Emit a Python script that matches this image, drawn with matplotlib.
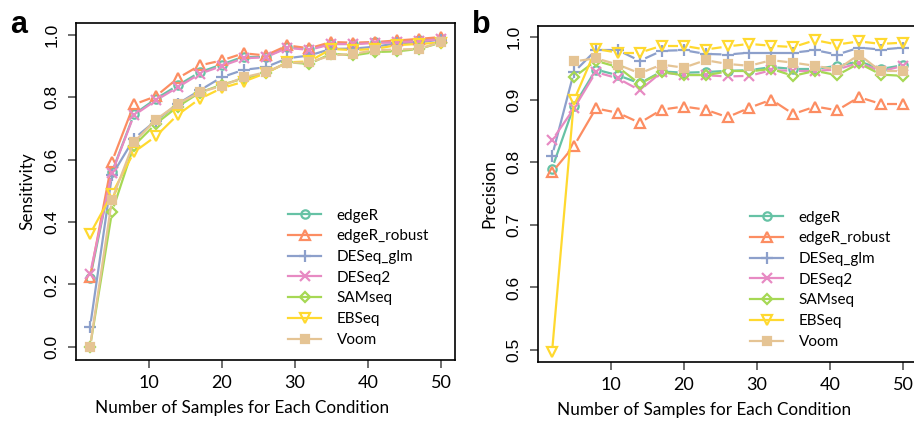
import numpy as np
import matplotlib
matplotlib.use('Agg')
import matplotlib.pyplot as plt
import matplotlib.lines as mlines
from matplotlib.collections import LineCollection

# data
n_samples = [2, 5, 8, 11, 14, 17, 20, 23, 26, 29, 32, 35, 38, 41, 44, 47, 50]
methods = ['edgeR', 'edgeR_robust', 'DESeq_glm', 'DESeq2', 'SAMseq', 'EBSeq', 'Voom']

sens_edgeR = [0.220, 0.560, 0.745, 0.795, 0.838, 0.880, 0.905, 0.930, 0.930, 0.960, 0.955, 0.972, 0.972, 0.976, 0.978, 0.982, 0.988]
sens_edgeR_robust = [0.223, 0.594, 0.777, 0.803, 0.861, 0.902, 0.918, 0.941, 0.934, 0.966, 0.957, 0.977, 0.975, 0.977, 0.982, 0.987, 0.993]
sens_DESeq_glm = [0.063, 0.550, 0.667, 0.725, 0.779, 0.822, 0.864, 0.888, 0.896, 0.925, 0.934, 0.955, 0.956, 0.962, 0.973, 0.976, 0.985]
sens_DESeq2 = [0.234, 0.558, 0.742, 0.790, 0.832, 0.875, 0.900, 0.925, 0.928, 0.958, 0.952, 0.970, 0.970, 0.974, 0.976, 0.980, 0.986]
sens_SAMseq = [0.000, 0.432, 0.645, 0.715, 0.770, 0.815, 0.840, 0.860, 0.877, 0.912, 0.907, 0.940, 0.934, 0.945, 0.947, 0.955, 0.975]
sens_EBSeq = [0.362, 0.490, 0.624, 0.675, 0.744, 0.795, 0.829, 0.850, 0.877, 0.912, 0.915, 0.955, 0.951, 0.955, 0.967, 0.971, 0.975]
sens_Voom = [0.000, 0.472, 0.656, 0.728, 0.779, 0.816, 0.836, 0.864, 0.880, 0.910, 0.912, 0.934, 0.939, 0.951, 0.953, 0.955, 0.977]

prec_edgeR = [0.790, 0.890, 0.948, 0.939, 0.926, 0.945, 0.943, 0.944, 0.946, 0.947, 0.952, 0.949, 0.949, 0.954, 0.961, 0.949, 0.955]
prec_edgeR_robust = [0.784, 0.826, 0.886, 0.879, 0.863, 0.884, 0.889, 0.884, 0.872, 0.887, 0.900, 0.877, 0.889, 0.883, 0.904, 0.893, 0.893]
prec_DESeq_glm = [0.810, 0.944, 0.979, 0.979, 0.962, 0.978, 0.979, 0.973, 0.972, 0.975, 0.975, 0.975, 0.979, 0.972, 0.983, 0.980, 0.983]
prec_DESeq2 = [0.835, 0.886, 0.944, 0.934, 0.915, 0.944, 0.939, 0.939, 0.937, 0.938, 0.947, 0.946, 0.946, 0.948, 0.959, 0.945, 0.954]
prec_SAMseq = [np.nan, 0.936, 0.962, 0.952, 0.925, 0.944, 0.939, 0.939, 0.945, 0.945, 0.949, 0.938, 0.946, 0.939, 0.958, 0.940, 0.938]
prec_EBSeq = [0.497, 0.899, 0.981, 0.975, 0.975, 0.986, 0.986, 0.980, 0.985, 0.989, 0.986, 0.984, 0.995, 0.988, 0.993, 0.989, 0.991]
prec_Voom = [np.nan, 0.961, 0.966, 0.956, 0.942, 0.956, 0.951, 0.963, 0.957, 0.954, 0.963, 0.959, 0.954, 0.948, 0.972, 0.945, 0.945]

sensitivity = [sens_edgeR, sens_edgeR_robust, sens_DESeq_glm, sens_DESeq2,
               sens_SAMseq, sens_EBSeq, sens_Voom]
precision = [prec_edgeR, prec_edgeR_robust, prec_DESeq_glm, prec_DESeq2,
             prec_SAMseq, prec_EBSeq, prec_Voom]

# Set2 palette, R pch 1..6 + filled square
colors = ['#66C2A5', '#FC8D62', '#8DA0CB', '#E78AC3', '#A6D854', '#FFD92F', '#E5C494']
markers = ['o', '^', '+', 'x', 'D', 'v', 's']
msizes = [6.0, 7.0, 8.5, 6.5, 5.5, 7.0, 6.0]
LW = 1.6

label_font = ['Lato', 'DejaVu Sans']
tick_font = ['Liberation Sans', 'DejaVu Sans']

W, H = 914, 421
fig = plt.figure(figsize=(W / 100, H / 100), dpi=100)
ax1 = fig.add_axes([76 / W, 1 - 360 / H, (455 - 76) / W, (360 - 23) / H])
ax2 = fig.add_axes([538 / W, 1 - 362 / H, (917 - 538) / W, (362 - 26) / H])

ax1.set_xlim(0.08, 51.92)
ax1.set_ylim(-0.042, 1.038)
ax2.set_xlim(0.08, 51.92)
ax2.set_ylim(0.481, 1.0176)


def draw_type_b(ax, x, y, color, marker, ms, gap=6.0):
    # R type="b": points joined by lines that stop short of each point
    pts = ax.transData.transform(np.column_stack([x, y]))
    inv = ax.transData.inverted()
    segs = []
    for i in range(len(pts) - 1):
        p0, p1 = pts[i], pts[i + 1]
        if np.any(np.isnan(p0)) or np.any(np.isnan(p1)):
            continue
        d = p1 - p0
        L = np.hypot(d[0], d[1])
        if L <= 2 * gap:
            continue
        u = d / L
        segs.append(inv.transform(np.array([p0 + u * gap, p1 - u * gap])))
    ax.add_collection(LineCollection(segs, colors=color, linewidths=LW,
                                     capstyle='butt'))
    filled = marker == 's'
    ax.plot(x, y, linestyle='none', marker=marker, markersize=ms,
            markeredgecolor=color, markerfacecolor=color if filled else 'none',
            markeredgewidth=LW)


for ax, data in [(ax1, sensitivity), (ax2, precision)]:
    for k in range(len(methods)):
        draw_type_b(ax, n_samples, data[k], colors[k], markers[k], msizes[k])

ax1.set_yticks([0.0, 0.2, 0.4, 0.6, 0.8, 1.0])
ax2.set_yticks([0.5, 0.6, 0.7, 0.8, 0.9, 1.0])
for ax in (ax1, ax2):
    ax.set_xticks([10, 20, 30, 40, 50])
    ax.set_xticklabels(['10', '20', '30', '40', '50'], family=label_font, fontsize=13)
    ax.set_yticklabels(['%.1f' % t for t in ax.get_yticks()], rotation=90,
                       va='center', family=tick_font, fontsize=12.5)
    ax.tick_params(axis='both', direction='out', length=6, width=1.2,
                   color='#555555')
    ax.tick_params(axis='x', pad=5)
    ax.tick_params(axis='y', pad=6)
    for sp in ax.spines.values():
        sp.set_linewidth(1.2)
    ax.set_xlabel('Number of Samples for Each Condition', family=label_font,
                  fontsize=12.3)
    ax.xaxis.set_label_coords(0.438, -0.12)

ax1.set_ylabel('Sensitivity', family=label_font, fontsize=12.3)
ax1.yaxis.set_label_coords(-0.108, 0.5)
ax2.set_ylabel('Precision', family=label_font, fontsize=12.3)
ax2.yaxis.set_label_coords(-0.108, 0.5)

handles = []
for k in range(len(methods)):
    filled = markers[k] == 's'
    handles.append(mlines.Line2D([], [], color=colors[k], lw=LW, marker=markers[k],
                                 markersize=msizes[k], markeredgewidth=LW,
                                 markerfacecolor=colors[k] if filled else 'none',
                                 label=methods[k]))

leg_kw = dict(loc='lower left', frameon=False,
              prop={'family': label_font, 'size': 11},
              handlelength=2.2, handletextpad=1.0, labelspacing=0.44,
              borderpad=0.0, borderaxespad=0.0)
ax1.legend(handles=handles, bbox_to_anchor=(0.559, 0.039), **leg_kw)
ax2.legend(handles=handles, bbox_to_anchor=(0.559, 0.039), **leg_kw)

fig.text(10 / W, 1 - 33 / H, 'a', fontsize=22, fontweight='bold', family=tick_font)
fig.text(472 / W, 1 - 33 / H, 'b', fontsize=22, fontweight='bold', family=tick_font)

fig.savefig('out.png', dpi=100)
